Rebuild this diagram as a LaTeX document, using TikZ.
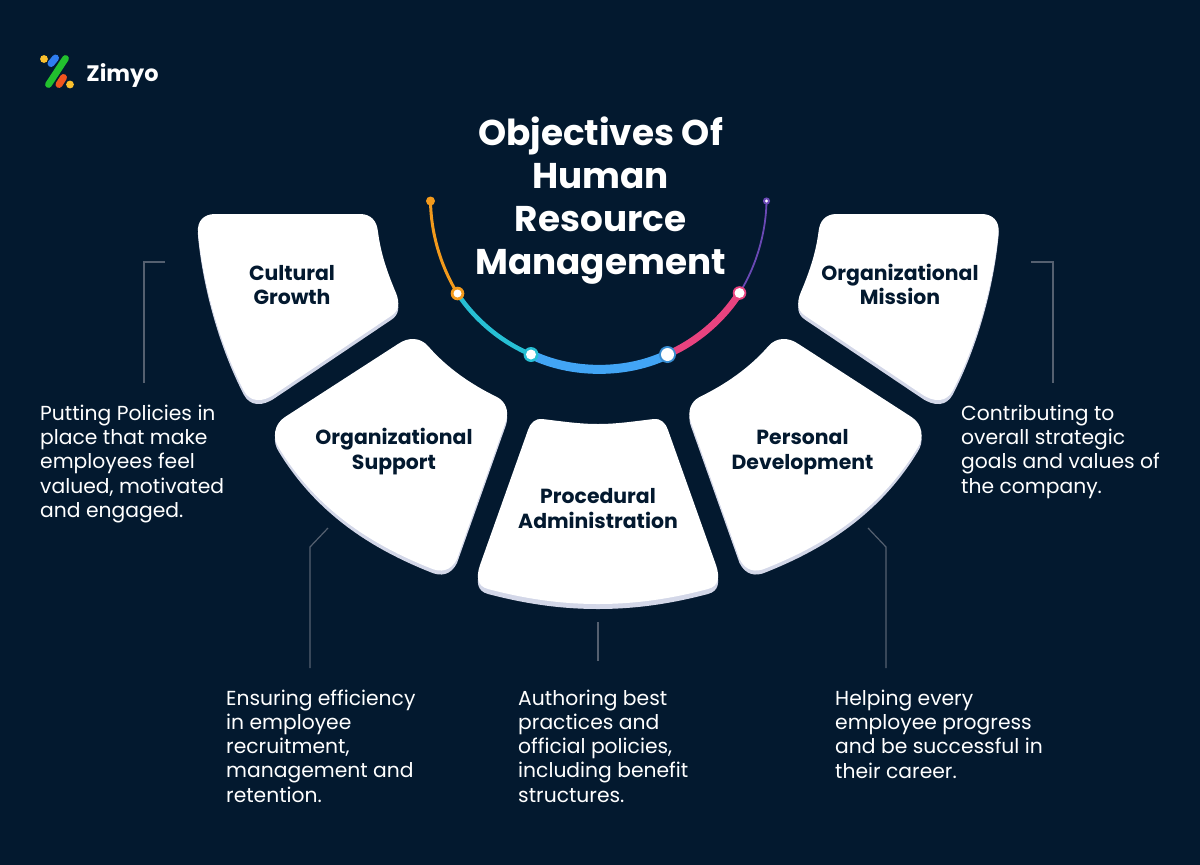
\documentclass[tikz,border=0pt]{standalone}
\usepackage{fontspec}
\setmainfont{Poppins}
\definecolor{bgc}{HTML}{03192F}
\definecolor{shadowc}{HTML}{D3D7E8}
\definecolor{leadc}{HTML}{556070}
\definecolor{orangec}{HTML}{F39A1C}
\definecolor{tealc}{HTML}{27BFD4}
\definecolor{bluec}{HTML}{42A5F5}
\definecolor{pinkc}{HTML}{E8437F}
\definecolor{purplec}{HTML}{6A49B5}
\definecolor{logogreen}{HTML}{22C02E}
\definecolor{logoblue}{HTML}{2F7DF0}
\definecolor{logored}{HTML}{F0541E}
\definecolor{logoyellow}{HTML}{FBC02D}
\newcommand{\culturalshape}{(215,214) -- (360,214) .. controls (371,214) and (377,221) .. (378,232) .. controls (381,255) and (388,274) .. (396,293) .. controls (400,303) and (399,311) .. (391,316) -- (275,394) .. controls (262,403) and (250,402) .. (244,391) .. controls (220,345) and (203,285) .. (198,232) .. controls (197,221) and (204,214) .. (215,214) -- cycle}
\newcommand{\supportshape}{(398,344) .. controls (408,337) and (420,337) .. (428,346) .. controls (447,368) and (472,385) .. (497,397) .. controls (506,402) and (509,411) .. (506,421) -- (457,559) .. controls (451,571) and (441,573) .. (430,568) .. controls (375,546) and (318,512) .. (279,448) .. controls (272,438) and (274,424) .. (285,417) -- cycle}
\newcommand{\procshape}{(542,419) .. controls (560,421) and (578,424) .. (598,424) .. controls (618,424) and (636,421) .. (654,419) .. controls (660,418) and (666,423) .. (668,430) -- (716,565) .. controls (720,577) and (719,586) .. (708,589) .. controls (670,599) and (635,604) .. (598,604) .. controls (561,604) and (526,599) .. (488,589) .. controls (477,586) and (476,577) .. (480,565) -- (528,430) .. controls (530,423) and (536,418) .. (542,419) -- cycle}
\tikzset{
  boxlabel/.style={text=bgc,align=center,inner sep=0pt,font=\fontsize{20.4}{24.6}\selectfont\bfseries},
  bodytext/.style={text=white,align=left,inner sep=0pt,anchor=west,font=\fontsize{20.3}{24.3}\selectfont},
  leader/.style={draw=leadc,line width=1.2pt},
  arcseg/.style={line cap=butt,looseness=0.85},
  mirrored/.style={xshift=1196.5pt,xscale=-1},
}
\begin{document}
\begin{tikzpicture}[x=1pt,y=-1pt]
\useasboundingbox (0,0) rectangle (1200,865);
\fill[bgc] (0,0) rectangle (1200,865);

% logo
\draw[line width=6.8pt,line cap=round,logogreen] (48.5,84.5) -- (65.5,58.5);
\draw[line width=7pt,line cap=round,logoblue] (51,63.5) -- (55.5,58);
\draw[line width=7pt,line cap=round,logored] (59,84.5) -- (63.5,77.5);
\fill[logoyellow] (44,59) circle (3.9);
\fill[logoyellow] (70,84.5) circle (3.9);
\node[text=white,inner sep=0pt,font=\fontsize{22.4}{24}\selectfont\bfseries] (brand) at (122.5,75) {Zimyo};

% title
\node[text=white,align=center,inner sep=0pt,font=\fontsize{35.8}{43}\selectfont\bfseries] (title) at (600.5,200.5) {Objectives Of\\Human\\Resource\\Management};

% shapes
\fill[shadowc,yshift=-4pt] \culturalshape;
\fill[white] \culturalshape;
\fill[shadowc,yshift=-4pt] \supportshape;
\fill[white] \supportshape;
\fill[shadowc,yshift=-5pt] \procshape;
\fill[white] \procshape;
\begin{scope}[mirrored]
\fill[shadowc,yshift=-4pt] \culturalshape;
\fill[white] \culturalshape;
\fill[shadowc,yshift=-4pt] \supportshape;
\fill[white] \supportshape;
\end{scope}

\node[boxlabel] (cultural) at (292,285) {Cultural\\Growth};
\node[boxlabel] (support) at (394,451.5) {Organizational\\Support};
\node[boxlabel] (procedural) at (598,508.5) {Procedural\\Administration};
\node[boxlabel] (personal) at (802.5,452) {Personal\\Development};
\node[boxlabel] (mission) at (900,284.5) {Organizational\\Mission};

% arc
\coordinate (p0) at (430.5,201);
\coordinate (p1) at (457.5,293.5);
\coordinate (p2) at (531,354.5);
\coordinate (p3) at (667.5,354.5);
\coordinate (p4) at (739.5,293);
\coordinate (p5) at (766.5,201);
\draw[arcseg,orangec,line width=3pt] (p0) to[bend right=15.5] (p1);
\draw[arcseg,tealc,line width=4.5pt] (p1) to[bend right=17] (p2);
\draw[arcseg,bluec,line width=9pt] (p2) to[bend right=26] (p3);
\draw[arcseg,pinkc,line width=7pt] (p3) to[bend right=17] (p4);
\draw[arcseg,purplec,line width=1.8pt] (p4) to[bend right=15.5] (p5);
\fill[orangec] (p0) circle (4.5);
\fill[orangec] (p1) circle (6.8); \fill[white] (p1) circle (4);
\fill[tealc] (p2) circle (7.5); \fill[white] (p2) circle (5);
\fill[bluec!85!black] (p3) circle (8.5); \fill[white] (p3) circle (6.5);
\fill[pinkc] (p4) circle (6.8); \fill[white] (p4) circle (5);
\fill[purplec] (p5) circle (3.6); \fill[white] (p5) circle (1.6);

% leaders
\coordinate (a1) at (165,262); \coordinate (a2) at (144,262); \coordinate (a3) at (144,383);
\draw[leader] (a1) -- (a2) -- (a3);
\coordinate (b1) at (328,528); \coordinate (b2) at (310,547); \coordinate (b3) at (310,668);
\draw[leader] (b1) -- (b2) -- (b3);
\coordinate (c1) at (598,622); \coordinate (c2) at (598,661);
\draw[leader] (c1) -- (c2);
\coordinate (d1) at (868,528); \coordinate (d2) at (886,547); \coordinate (d3) at (886,668);
\draw[leader] (d1) -- (d2) -- (d3);
\coordinate (e1) at (1031,262); \coordinate (e2) at (1053,262); \coordinate (e3) at (1053,383);
\draw[leader] (e1) -- (e2) -- (e3);

% descriptions
\node[bodytext] (t1) at (40,464) {Putting Policies in\\place that make\\employees feel\\valued, motivated\\and engaged.};
\node[bodytext] (t2) at (226,746) {Ensuring efficiency\\in employee\\recruitment,\\management and\\retention.};
\node[bodytext] (t3) at (518,746) {Authoring best\\practices and\\official policies,\\including benefit\\structures.};
\node[bodytext] (t4) at (835,734) {Helping every\\employee progress\\and be successful in\\their career.};
\node[bodytext] (t5) at (961,451.5) {Contributing to\\overall strategic\\goals and values of\\the company.};
\end{tikzpicture}
\end{document}
